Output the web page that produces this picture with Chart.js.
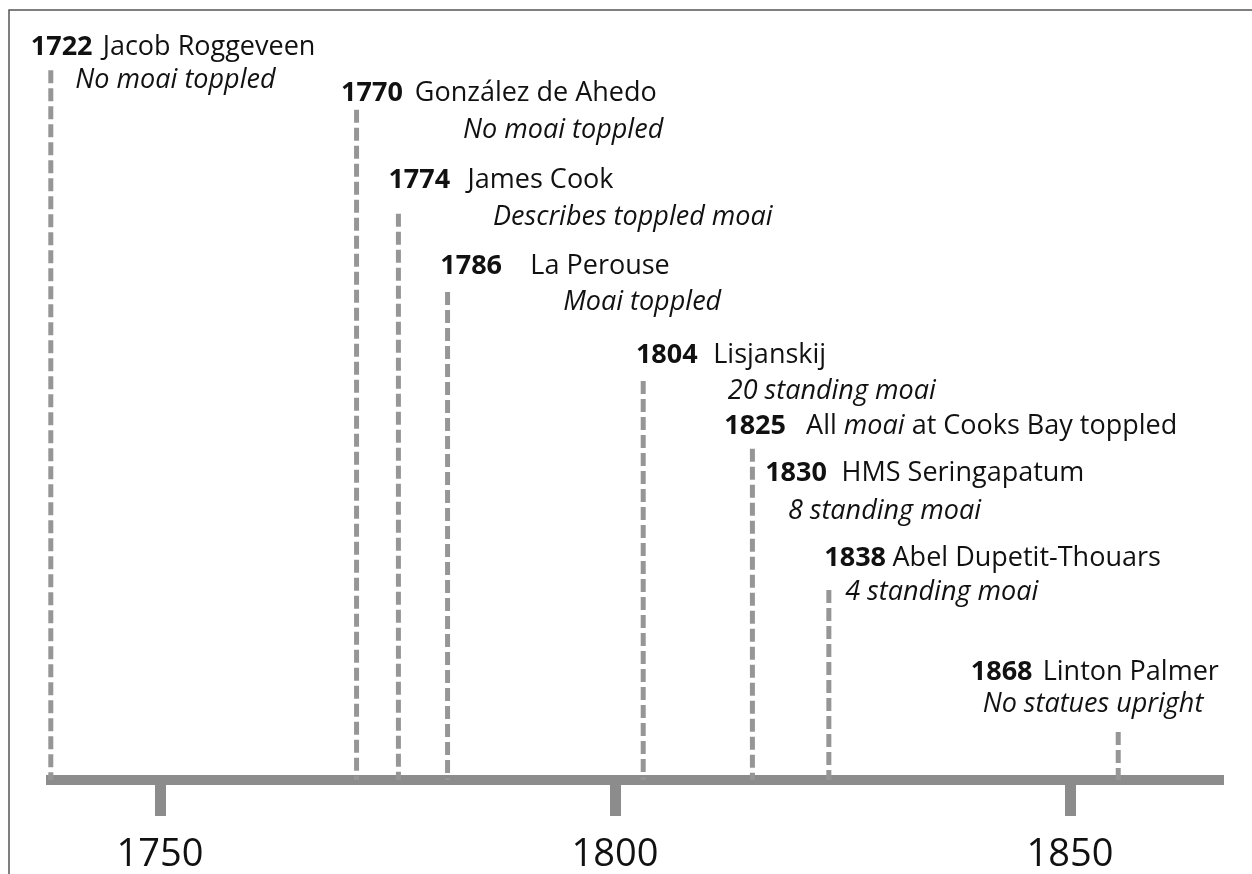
<!DOCTYPE html>
<html>
<head>
<meta charset="utf-8">
<script src="https://cdn.jsdelivr.net/npm/chart.js@4.4.1/dist/chart.umd.min.js"></script>
<style>
  html, body { margin: 0; padding: 0; background: #fff; }
  #wrap { width: 1252px; height: 874px; position: relative; }
</style>
</head>
<body>
<div id="wrap"><canvas id="timeline"></canvas></div>
<script>
// visit years, who came, and what they saw
const eventYears = ['1722', '1770', '1774', '1786', '1804', '1825', '1830', '1838', '1868'];
const explorers = ['Jacob Roggeveen', 'González de Ahedo', 'James Cook', 'La Perouse', 'Lisjanskij',
    'All *moai* at Cooks Bay toppled', 'HMS Seringapatum', 'Abel Dupetit-Thouars', 'Linton Palmer'];
const notes = ['No moai toppled', 'No moai toppled', 'Describes toppled moai', 'Moai toppled',
    '20 standing moai', '', '8 standing moai', '4 standing moai', 'No statues upright'];

// dashed markers: where they stand on the time axis and how tall they are
const markerYears = [1738.0, 1771.6, 1776.2, 1781.6, 1803.1, 1815.1, 1823.5, 1855.3];
const markerHeights = [93.4, 88.2, 74.5, 64.2, 52.5, 43.6, 25.0, 6.3];

const axisTicks = [1750, 1800, 1850];

// text placement, in axis units (year, height)
const labelLayout = [
    { yearX: 1735.8, rowY: 96.4, nameX: 1743.7, noteX: 1740.7, noteY: 92.1 },
    { yearX: 1769.9, rowY: 90.3, nameX: 1778.0, noteX: 1783.3, noteY: 85.5 },
    { yearX: 1775.1, rowY: 78.9, nameX: 1783.8, noteX: 1786.6, noteY: 74.1 },
    { yearX: 1780.8, rowY: 67.6, nameX: 1790.7, noteX: 1794.3, noteY: 62.9 },
    { yearX: 1802.3, rowY: 55.9, nameX: 1810.8, noteX: 1812.4, noteY: 51.2 },
    { yearX: 1812.0, rowY: 46.6, nameX: 1821.0, noteX: 0, noteY: 0 },
    { yearX: 1816.5, rowY: 40.3, nameX: 1824.9, noteX: 1819.0, noteY: 35.4 },
    { yearX: 1823.0, rowY: 29.2, nameX: 1830.5, noteX: 1825.3, noteY: 24.7 },
    { yearX: 1839.1, rowY: 14.2, nameX: 1847.0, noteX: 1840.4, noteY: 9.9 },
];

const FONT = '"Open Sans", "DejaVu Sans", sans-serif';
const TEXT_SIZE = 27;
const AXIS_GREY = '#8c8c8c';
const DASH_GREY = '#969696';

const datasets = markerYears.map((yr, i) => ({
    data: [{ x: yr, y: markerHeights[i] }, { x: yr, y: 0 }],
    borderColor: DASH_GREY,
    borderWidth: 5,
    borderDash: [13, 5],
    borderCapStyle: 'butt',
    pointRadius: 0,
    fill: false,
    clip: false,
}));

// thin frame on the left and top edges
const framePlugin = {
    id: 'frame',
    beforeDraw(chart) {
        const c = chart.ctx;
        c.save();
        c.fillStyle = '#fff';
        c.fillRect(0, 0, chart.width, chart.height);
        c.strokeStyle = '#555';
        c.lineWidth = 1.5;
        c.beginPath();
        c.moveTo(9, chart.height);
        c.lineTo(9, 10);
        c.lineTo(chart.width, 10);
        c.stroke();
        c.restore();
    }
};

function drawRich(c, text, x, y) {
    // *word* is drawn in italics
    const parts = text.split('*');
    parts.forEach((p, k) => {
        c.font = (k % 2 ? 'italic ' : '') + TEXT_SIZE + 'px ' + FONT;
        c.fillText(p, x, y);
        x += c.measureText(p).width;
    });
}

const labelPlugin = {
    id: 'eventLabels',
    afterDraw(chart) {
        const c = chart.ctx;
        const xs = chart.scales.x, ys = chart.scales.y;
        c.save();
        c.fillStyle = '#111';
        c.textBaseline = 'middle';
        c.textAlign = 'left';
        eventYears.forEach((yr, i) => {
            const L = labelLayout[i];
            const rowY = ys.getPixelForValue(L.rowY);
            c.font = '700 ' + TEXT_SIZE + 'px ' + FONT;
            c.fillText(yr, xs.getPixelForValue(L.yearX), rowY);
            drawRich(c, explorers[i], xs.getPixelForValue(L.nameX), rowY);
            if (notes[i]) {
                c.font = 'italic ' + TEXT_SIZE + 'px ' + FONT;
                c.fillText(notes[i], xs.getPixelForValue(L.noteX), ys.getPixelForValue(L.noteY));
            }
        });
        c.restore();
    }
};

const ctx = document.getElementById('timeline').getContext('2d');
const timeline = new Chart(ctx, {
    type: 'line',
    data: { datasets: datasets },
    options: {
        responsive: true,
        maintainAspectRatio: false,
        animation: false,
        layout: {
            padding: { left: 51, right: 29, top: 20, bottom: 0 },
        },
        scales: {
            x: {
                type: 'linear',
                position: 'bottom',
                min: 1800 - 564 / 9.1,
                max: 1800 + 608 / 9.1,
                z: 1,
                afterBuildTicks(scale) {
                    scale.ticks = axisTicks.map(v => ({ value: v }));
                },
                afterFit(scale) {
                    scale.height = 94;
                },
                border: {
                    display: true,
                    color: AXIS_GREY,
                    width: 10,
                },
                grid: {
                    drawOnChartArea: false,
                    drawTicks: true,
                    tickLength: 36,
                    tickWidth: 11,
                    tickColor: AXIS_GREY,
                },
                ticks: {
                    color: '#111',
                    padding: 16,
                    autoSkip: false,
                    maxRotation: 0,
                    font: { family: FONT, size: 38 },
                    callback: v => String(v),
                },
            },
            y: {
                display: false,
                min: 0,
                max: 100,
            },
        },
        plugins: {
            legend: { display: false },
            tooltip: { enabled: false },
        },
    },
    plugins: [framePlugin, labelPlugin],
});
</script>
</body>
</html>
